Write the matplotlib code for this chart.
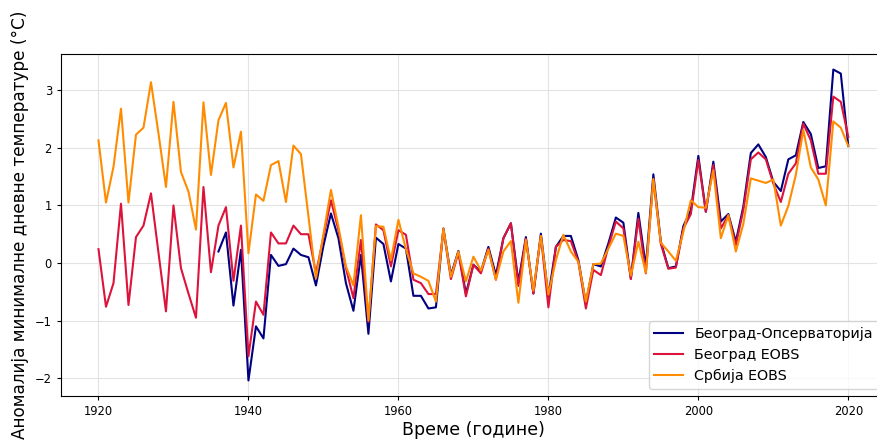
import numpy as np
import matplotlib
matplotlib.use("Agg")
import matplotlib.pyplot as plt

# Years
years = np.arange(1920, 2021)
years_obs = np.arange(1936, 2021)

# Beograd-Opservatorija (1936-2020)
beograd_obs = [
    0.20, 0.53, -0.74, 0.23,                                          # 1936-1939
    -2.04, -1.10, -1.31, 0.14, -0.05, -0.02, 0.25, 0.14, 0.10, -0.39,  # 1940s
    0.30, 0.86, 0.43, -0.35, -0.83, 0.14, -1.23, 0.44, 0.33, -0.32,    # 1950s
    0.33, 0.25, -0.57, -0.57, -0.79, -0.77, 0.60, -0.21, 0.21, -0.53,  # 1960s
    -0.03, -0.15, 0.28, -0.21, 0.43, 0.69, -0.33, 0.45, -0.53, 0.51,   # 1970s
    -0.58, 0.28, 0.47, 0.47, 0.05, -0.70, -0.02, -0.06, 0.34, 0.79,    # 1980s
    0.70, -0.27, 0.87, -0.06, 1.54, 0.37, -0.09, -0.06, 0.64, 0.92,    # 1990s
    1.86, 0.89, 1.76, 0.72, 0.85, 0.37, 0.98, 1.91, 2.06, 1.84,        # 2000s
    1.41, 1.25, 1.80, 1.87, 2.45, 2.24, 1.65, 1.68, 3.36, 3.29,        # 2010s
    2.03,                                                              # 2020
]

# Beograd EOBS (1920-2020)
beograd_eobs = [
    0.24, -0.76, -0.35, 1.03, -0.73, 0.45, 0.65, 1.21, 0.18, -0.84,    # 1920s
    1.00, -0.09, -0.53, -0.95, 1.32, -0.16, 0.65, 0.97, -0.31, 0.65,   # 1930s
    -1.62, -0.67, -0.90, 0.53, 0.34, 0.34, 0.65, 0.50, 0.50, -0.18,    # 1940s
    0.45, 1.09, 0.57, -0.09, -0.61, 0.40, -1.02, 0.67, 0.57, -0.06,    # 1950s
    0.57, 0.49, -0.29, -0.35, -0.54, -0.54, 0.58, -0.28, 0.18, -0.58,  # 1960s
    -0.03, -0.18, 0.25, -0.29, 0.43, 0.69, -0.40, 0.42, -0.53, 0.47,   # 1970s
    -0.77, 0.28, 0.40, 0.38, 0.02, -0.79, -0.12, -0.21, 0.28, 0.72,    # 1980s
    0.60, -0.28, 0.77, -0.18, 1.45, 0.33, -0.10, -0.08, 0.60, 0.85,    # 1990s
    1.79, 0.89, 1.70, 0.60, 0.83, 0.31, 0.92, 1.80, 1.92, 1.80,        # 2000s
    1.38, 1.06, 1.55, 1.73, 2.42, 2.13, 1.55, 1.55, 2.89, 2.80,        # 2010s
    2.19,                                                              # 2020
]

# Srbija EOBS (1920-2020)
srbija_eobs = [
    2.13, 1.05, 1.67, 2.68, 1.05, 2.23, 2.35, 3.14, 2.25, 1.32,        # 1920s
    2.80, 1.58, 1.24, 0.58, 2.79, 1.53, 2.48, 2.78, 1.66, 2.28,        # 1930s
    0.17, 1.19, 1.08, 1.70, 1.77, 1.06, 2.04, 1.89, 0.81, -0.27,       # 1940s
    0.50, 1.27, 0.63, -0.06, -0.39, 0.83, -1.00, 0.64, 0.63, 0.05,     # 1950s
    0.75, 0.24, -0.18, -0.24, -0.31, -0.67, 0.60, -0.24, 0.20, -0.32,  # 1960s
    0.11, -0.13, 0.23, -0.29, 0.20, 0.38, -0.69, 0.40, -0.48, 0.47,    # 1970s
    -0.55, 0.05, 0.49, 0.20, 0.02, -0.67, -0.02, -0.01, 0.25, 0.51,    # 1980s
    0.47, -0.22, 0.37, -0.17, 1.46, 0.35, 0.20, 0.04, 0.54, 1.09,      # 1990s
    0.97, 0.96, 1.61, 0.43, 0.83, 0.20, 0.68, 1.47, 1.43, 1.39,        # 2000s
    1.45, 0.65, 0.99, 1.53, 2.31, 1.66, 1.45, 1.00, 2.46, 2.35,        # 2010s
    2.03,                                                              # 2020
]

labels = ["Београд-Опсерваторија", "Београд EOBS", "Србија EOBS"]

fig = plt.figure(figsize=(8.77, 4.44), dpi=100)
ax = fig.add_axes([61 / 877, 48 / 444, 824.8 / 877, 342 / 444])

ax.plot(years_obs, beograd_obs, color="navy", lw=1.5, label=labels[0])
ax.plot(years, beograd_eobs, color="crimson", lw=1.5, label=labels[1])
ax.plot(years, srbija_eobs, color="darkorange", lw=1.5, label=labels[2])

ax.set_xlim(1915, 2025)
ax.set_ylim(-2.31, 3.63)
ax.set_xticks(np.arange(1920, 2021, 20))
ax.set_yticks(np.arange(-2, 4, 1))
ax.tick_params(axis="both", labelsize=8.3, length=3)
ax.grid(True, color="#dddddd", lw=0.8, alpha=0.8)
ax.set_axisbelow(True)

ax.set_xlabel("Време (године)", fontsize=12.5, labelpad=2)
ax.set_ylabel("Аномалија минималне дневне температуре (°C)", fontsize=12.2, labelpad=4)

ax.legend(loc="lower right", fontsize=10.3, framealpha=0.8)

fig.savefig("out.png", dpi=100)
